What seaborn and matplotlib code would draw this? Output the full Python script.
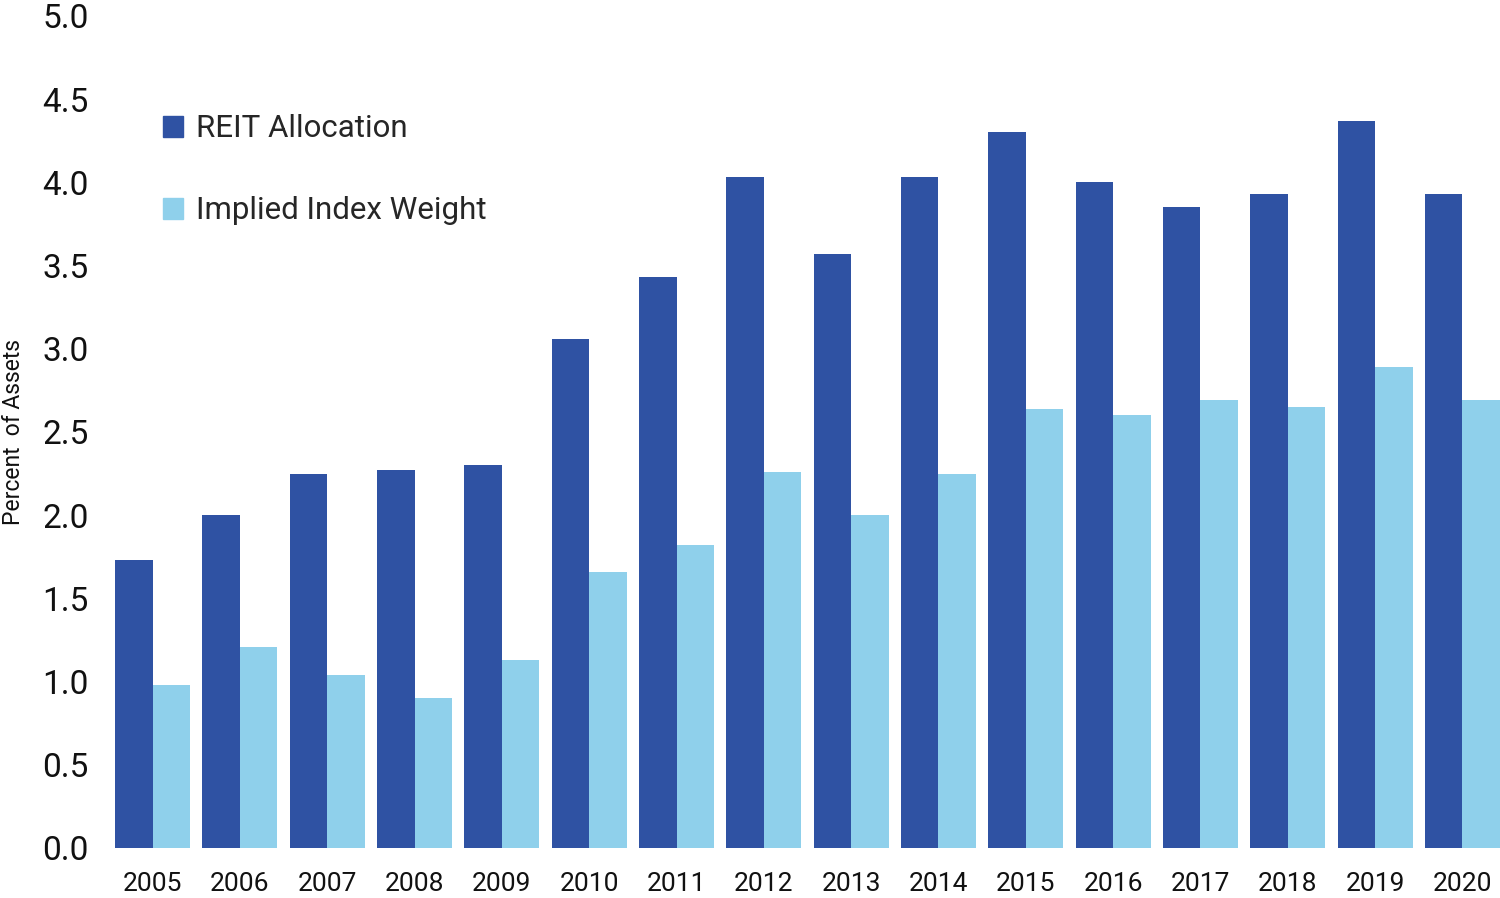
import matplotlib.pyplot as plt
import seaborn as sns
import pandas as pd
from matplotlib.patches import Patch

years = [str(y) for y in range(2005, 2021)]
reit_allocation = [1.73, 2.00, 2.245, 2.27, 2.30, 3.06, 3.43, 4.03, 3.57,
                   4.03, 4.30, 4.00, 3.85, 3.93, 4.37, 3.93]
implied_weight = [0.98, 1.21, 1.04, 0.90, 1.13, 1.66, 1.82, 2.26, 2.00,
                  2.245, 2.64, 2.60, 2.69, 2.65, 2.89, 2.69]
series_names = ['REIT Allocation', 'Implied Index Weight']
colors = ['#2F52A3', '#8FD0EB']

df = pd.DataFrame({
    'year': years * 2,
    'value': reit_allocation + implied_weight,
    'series': [series_names[0]] * len(years) + [series_names[1]] * len(years),
})

sns.set_theme(style='white')
plt.rcParams['font.family'] = ['Roboto', 'DejaVu Sans']

fig = plt.figure(figsize=(15, 8.98), dpi=100)
ax = fig.add_axes([115 / 1500, 1 - 848 / 898, 1385 / 1500, (848 - 16) / 898])

sns.barplot(data=df, x='year', y='value', hue='series', palette=colors,
            width=0.86, linewidth=0, saturation=1, legend=False, ax=ax)

ax.set_xlim(-0.43, len(years) - 1 + 0.43)
ax.set_ylim(0, 5)
ax.set_yticks([i * 0.5 for i in range(11)])
ax.set_yticklabels([f'{i * 0.5:.1f}' for i in range(11)])
ax.tick_params(axis='y', labelsize=24, pad=19, length=0, colors='#111111')
ax.tick_params(axis='x', labelsize=19, pad=17, length=0, colors='#111111')
for s in ax.spines.values():
    s.set_visible(False)
ax.set_xlabel('')
ax.set_ylabel('Percent  of Assets', fontsize=16.5, color='#111111')
ax.yaxis.set_label_coords(-0.065, 0.5)

handles = [Patch(color=c, label=n) for c, n in zip(colors, series_names)]
ax.legend(handles=handles, loc='upper left', bbox_to_anchor=(135 / 1500, 1 - 86 / 898),
          bbox_transform=fig.transFigure, frameon=False, fontsize=22.5,
          handlelength=0.65, handleheight=0.65, handletextpad=0.4, labelspacing=1.7)

fig.savefig('out.png', dpi=100)
